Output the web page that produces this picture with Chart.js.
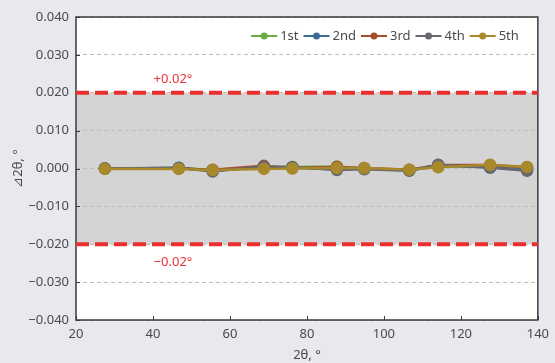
<!DOCTYPE html>
<html>
<head>
<meta charset="utf-8">
<script src="https://cdn.jsdelivr.net/npm/chart.js@4/dist/chart.umd.min.js"></script>
<style>
  html, body { margin: 0; padding: 0; background: #e8e9ee; }
  canvas { display: block; }
</style>
</head>
<body>
<canvas id="chart" width="555" height="363"></canvas>
<script>
const angles = [27.5, 46.7, 55.5, 68.8, 76.2, 87.8, 94.9, 106.6, 114.1, 127.6, 137.2];
const run1 = [0.0000, 0.0001, -0.0004, 0.0003, 0.0004, 0.0005, 0.0000, -0.0004, 0.0005, 0.0006, 0.0001];
const run2 = [0.0000, 0.0002, -0.0006, 0.0003, 0.0002, -0.0002, 0.0000, -0.0005, 0.0008, 0.0003, -0.0004];
const run3 = [0.0000, 0.0000, -0.0003, 0.0007, 0.0001, 0.0004, 0.0001, -0.0003, 0.0009, 0.0009, 0.0003];
const run4 = [0.0000, 0.0001, -0.0008, 0.0005, 0.0004, -0.0004, -0.0002, -0.0006, 0.0010, 0.0002, -0.0006];
const run5 = [-0.0001, -0.0001, -0.0004, -0.0001, 0.0000, 0.0001, 0.0001, -0.0003, 0.0003, 0.0010, 0.0004];
const runLabels = ["1st", "2nd", "3rd", "4th", "5th"];
const limits = [0.02, -0.02];
const limitLabels = ["+0.02°", "−0.02°"];
const xRange = [20, 140];

const colors = ["#6aab46", "#3d6b98", "#a64b2c", "#666a70", "#a8892c"];
const font = "'Noto Sans', 'Open Sans', sans-serif";

const runs = [run1, run2, run3, run4, run5];
const datasets = runs.map((vals, i) => ({
  label: runLabels[i],
  data: angles.map((x, j) => ({ x, y: vals[j] })),
  borderColor: colors[i],
  backgroundColor: colors[i],
  borderWidth: 2.5,
  pointRadius: 5,
  pointHoverRadius: 5,
  order: 5 - i
}));
limits.forEach((lim) => {
  datasets.push({
    label: "limit",
    data: xRange.map((x) => ({ x, y: lim })),
    borderColor: "#e8302f",
    borderWidth: 4,
    borderDash: [13, 6],
    pointRadius: 0,
    order: 20
  });
});

const backdrop = {
  id: "backdrop",
  beforeDraw(chart) {
    const { ctx, chartArea: a, scales } = chart;
    ctx.save();
    ctx.fillStyle = "#e8e9ee";
    ctx.fillRect(0, 0, chart.width, chart.height);
    ctx.fillStyle = "#ffffff";
    ctx.fillRect(a.left, a.top, a.width, a.height);
    const y1 = scales.y.getPixelForValue(limits[0]);
    const y2 = scales.y.getPixelForValue(limits[1]);
    ctx.fillStyle = "#d4d4d4";
    ctx.fillRect(a.left, y1, a.width, y2 - y1);
    ctx.restore();
  },
  beforeDatasetsDraw(chart) {
    const { ctx, chartArea: a, scales } = chart;
    ctx.save();
    ctx.strokeStyle = "#3a3a3a";
    ctx.lineWidth = 1.5;
    ctx.strokeRect(a.left, a.top, a.width, a.height);
    ctx.lineWidth = 1;
    scales.x.ticks.forEach((t) => {
      const px = Math.round(scales.x.getPixelForValue(t.value)) + 0.5;
      ctx.beginPath(); ctx.moveTo(px, a.bottom); ctx.lineTo(px, a.bottom - 4); ctx.stroke();
    });
    scales.y.ticks.forEach((t) => {
      const py = Math.round(scales.y.getPixelForValue(t.value)) + 0.5;
      ctx.beginPath(); ctx.moveTo(a.left, py); ctx.lineTo(a.left + 4, py); ctx.stroke();
    });
    ctx.fillStyle = "#ea3538";
    ctx.font = "13px " + font;
    ctx.textAlign = "center";
    ctx.textBaseline = "middle";
    ctx.fillText(limitLabels[0], scales.x.getPixelForValue(45.2), scales.y.getPixelForValue(0.0235));
    ctx.fillText(limitLabels[1], scales.x.getPixelForValue(45.2), scales.y.getPixelForValue(-0.0247));
    ctx.restore();
  },
  afterDraw(chart) {
    // legend: line + dot icon, right aligned inside the plot
    const { ctx, chartArea: a } = chart;
    const items = chart.data.datasets.filter((d) => d.label !== "limit");
    ctx.save();
    ctx.font = "13px " + font;
    ctx.textBaseline = "middle";
    const iconW = 26, gapIcon = 3, gapItem = 5;
    const widths = items.map((d) => iconW + gapIcon + ctx.measureText(d.label).width);
    const total = widths.reduce((s, w) => s + w, 0) + gapItem * (items.length - 1);
    let x = a.right - 19 - total;
    const y = a.top + 19;
    items.forEach((d, i) => {
      ctx.strokeStyle = d.borderColor;
      ctx.fillStyle = d.borderColor;
      ctx.lineWidth = 2;
      ctx.beginPath(); ctx.moveTo(x, y); ctx.lineTo(x + iconW, y); ctx.stroke();
      ctx.beginPath(); ctx.arc(x + iconW / 2, y, 3.5, 0, Math.PI * 2); ctx.fill();
      ctx.fillStyle = "#4a4a4a";
      ctx.fillText(d.label, x + iconW + gapIcon, y);
      x += widths[i] + gapItem;
    });
    ctx.restore();
  }
};

new Chart(document.getElementById("chart"), {
  type: "line",
  data: { datasets },
  plugins: [backdrop],
  options: {
    responsive: false,
    animation: false,
    devicePixelRatio: 1,
    layout: { padding: { left: 0, right: 11, top: 17, bottom: 0 } },
    plugins: {
      tooltip: { enabled: false },
      legend: { display: false }
    },
    scales: {
      x: {
        type: "linear",
        min: xRange[0],
        max: xRange[1],
        afterFit(scale) { scale.height = 43; },
        grid: { display: false, drawTicks: false },
        border: { display: false },
        ticks: { stepSize: 20, padding: 6, color: "#4a4a4a", font: { family: font, size: 13 } },
        title: { display: true, text: "2θ, °", color: "#4a4a4a", padding: { top: 0, bottom: 0 }, font: { family: font, size: 13 } }
      },
      y: {
        min: -0.04,
        max: 0.04,
        afterFit(scale) { scale.width = 76; },
        grid: { color: "#bdbdbd", drawTicks: false },
        border: { display: false, dash: [4, 3] },
        ticks: {
          stepSize: 0.01,
          padding: 7,
          color: "#4a4a4a",
          font: { family: font, size: 13 },
          callback: (v) => (v < -1e-9 ? "−" : "") + Math.abs(v).toFixed(3)
        },
        title: { display: true, text: "⊿2θ, °", color: "#4a4a4a", padding: { top: 10, bottom: 0 }, font: { family: font, size: 13 } }
      }
    }
  }
});
</script>
</body>
</html>
